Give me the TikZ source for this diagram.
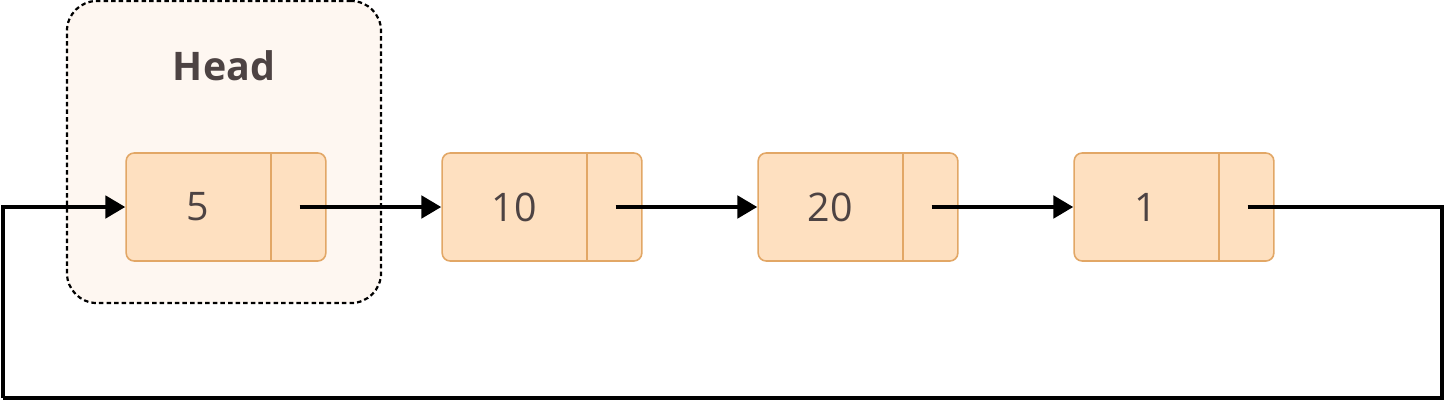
\documentclass[tikz,border=0pt]{standalone}
\usepackage{fontspec}
\setmainfont{Open Sans}
\usetikzlibrary{arrows.meta,shapes.multipart}

\definecolor{cellfill}{HTML}{FEE0C0}
\definecolor{celldraw}{HTML}{E2A766}
\definecolor{headfill}{HTML}{FEF7F1}
\definecolor{inktext}{HTML}{4D4343}

\tikzset{
  listcell/.style={rectangle split, rectangle split horizontal, rectangle split parts=2,
    draw=celldraw, fill=cellfill, line width=0.04cm, rounded corners=0.2cm,
    inner sep=0pt, minimum height=2.7cm, text=inktext,
    font=\fontsize{28}{30}\selectfont},
  headbox/.style={draw, dash pattern=on 3.2pt off 2.2pt, line width=0.055cm,
    fill=headfill, rounded corners=0.75cm, minimum width=7.85cm, minimum height=7.55cm},
  link/.style={line width=0.12cm, -{Triangle[length=0.5cm,width=0.55cm]}},
  loopline/.style={line width=0.12cm}
}

\begin{document}
\begin{tikzpicture}[x=0.025cm,y=-0.025cm]
  \useasboundingbox (0,0) rectangle (1446,402);

  % Marking the head by a dashed box
  \node[headbox] (headbox) at (224,152) {};
  \node[text=inktext, font=\bfseries\fontsize{28}{30}\selectfont] (headlabel) at (224,66) {Head};

  % Drawing the list cells
  \foreach \v [count=\i] in {5,10,20,1}
    \node[listcell] (n\i) at ({226+316*(\i-1)},207)
      {\makebox[3.6cm]{\v}\nodepart{two}\makebox[1.35cm]{}};

  % Drawing links between cells
  \foreach \i/\j in {1/2,2/3,3/4}
    \draw[link] ([xshift=-0.675cm]n\i.east) -- (n\j.west);

  % Drawing the link from the last cell back to the head
  \coordinate (loopright) at (1442,398);
  \coordinate (loopleft) at (3,398);
  \draw[loopline] ([xshift=-0.675cm]n4.east) -| (loopright) -- (loopleft);
  \draw[link] (loopleft) |- (n1.west);
\end{tikzpicture}
\end{document}
